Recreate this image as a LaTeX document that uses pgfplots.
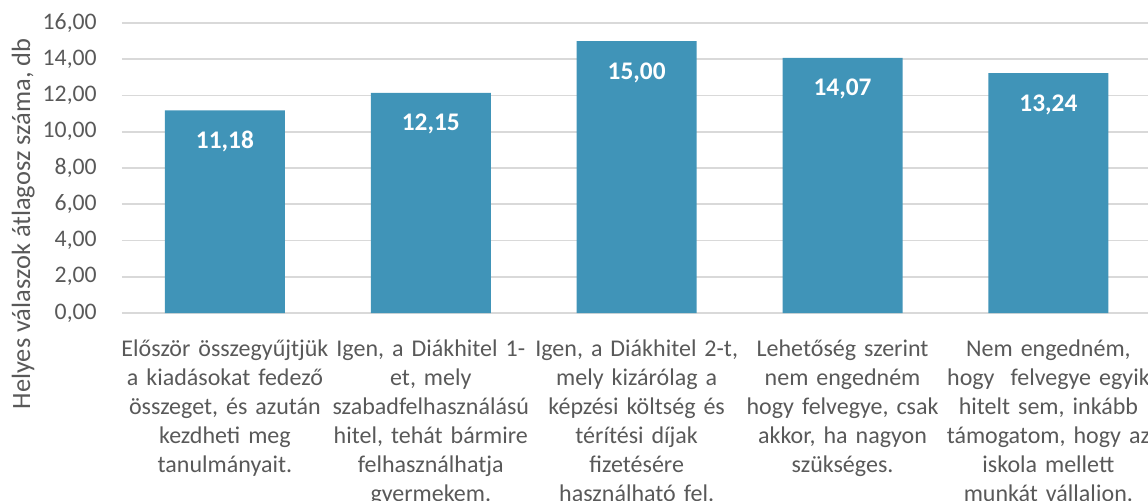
\documentclass[border=0pt]{standalone}
\usepackage{pgfplots}
\pgfplotsset{compat=1.18}
\usepackage{fontspec}
\setmainfont{Carlito}
\definecolor{barblue}{HTML}{4094B8}
\definecolor{txtgray}{HTML}{595959}
\definecolor{gridgray}{HTML}{D9D9D9}
\begin{document}
\begin{tikzpicture}
\begin{axis}[
  name=ax,
  at={(0,0)}, anchor=south west,
  scale only axis,
  width=772pt, height=217.5pt,
  xmin=-0.5, xmax=4.5,
  ymin=0, ymax=16,
  ytick={0,2,...,16},
  xtick=data,
  xticklabels={
    {Először összegyűjtjük\\a kiadásokat fedező\\összeget, és azután\\kezdheti meg\\tanulmányait.},
    {Igen, a Diákhitel 1-\\et, mely\\szabadfelhasználású\\hitel, tehát bármire\\felhasználhatja\\gyermekem.},
    {Igen, a Diákhitel 2-t,\\mely kizárólag a\\képzési költség és\\térítési díjak\\fizetésére\\használható fel.},
    {Lehetőség szerint\\nem engedném\\hogy felvegye, csak\\akkor, ha nagyon\\szükséges.},
    {Nem engedném,\\hogy \ felvegye egyik\\hitelt sem, inkább\\támogatom, hogy az\\iskola mellett\\munkát vállaljon.}
  },
  axis line style={draw=none},
  major tick length=0pt,
  ymajorgrids,
  grid style={gridgray, line width=1.3pt},
  /pgf/number format/assume math mode=true,
  yticklabel style={
    /pgf/number format/.cd, fixed, fixed zerofill, precision=2, use comma, /tikz/.cd,
    font=\fontsize{17.8}{21.4}\selectfont, text=txtgray,
    anchor=east, inner sep=0pt, xshift=-18.75pt},
  xticklabel style={
    font=\fontsize{18}{21.75}\selectfont, text=txtgray,
    anchor=base, text width=170pt, align=center, inner sep=0pt, yshift=-32.25pt},
  ylabel={Helyes válaszok átlagosz száma, db},
  every axis y label/.style={
    at={(rel axis cs:0,0)}, xshift=-74pt, yshift=66.75pt,
    rotate=90, anchor=center,
    font=\fontsize{19.8}{24}\selectfont, text=txtgray},
  ybar, bar width=90pt,
  nodes near coords={\pgfmathprintnumber[fixed, fixed zerofill, precision=2, use comma]{\pgfplotspointmeta}},
  every node near coord/.append style={
    anchor=base, yshift=-28.5pt, text=white,
    font=\fontsize{19}{22}\selectfont\bfseries},
]
\addplot[fill=barblue, draw=none] coordinates {
  (0,11.18) (1,12.15) (2,15.00) (3,14.07) (4,13.24)
};
\end{axis}
\pgfresetboundingbox
\path (-91.5pt,-140.25pt) rectangle (769.5pt,234.75pt);
\end{tikzpicture}
\end{document}
